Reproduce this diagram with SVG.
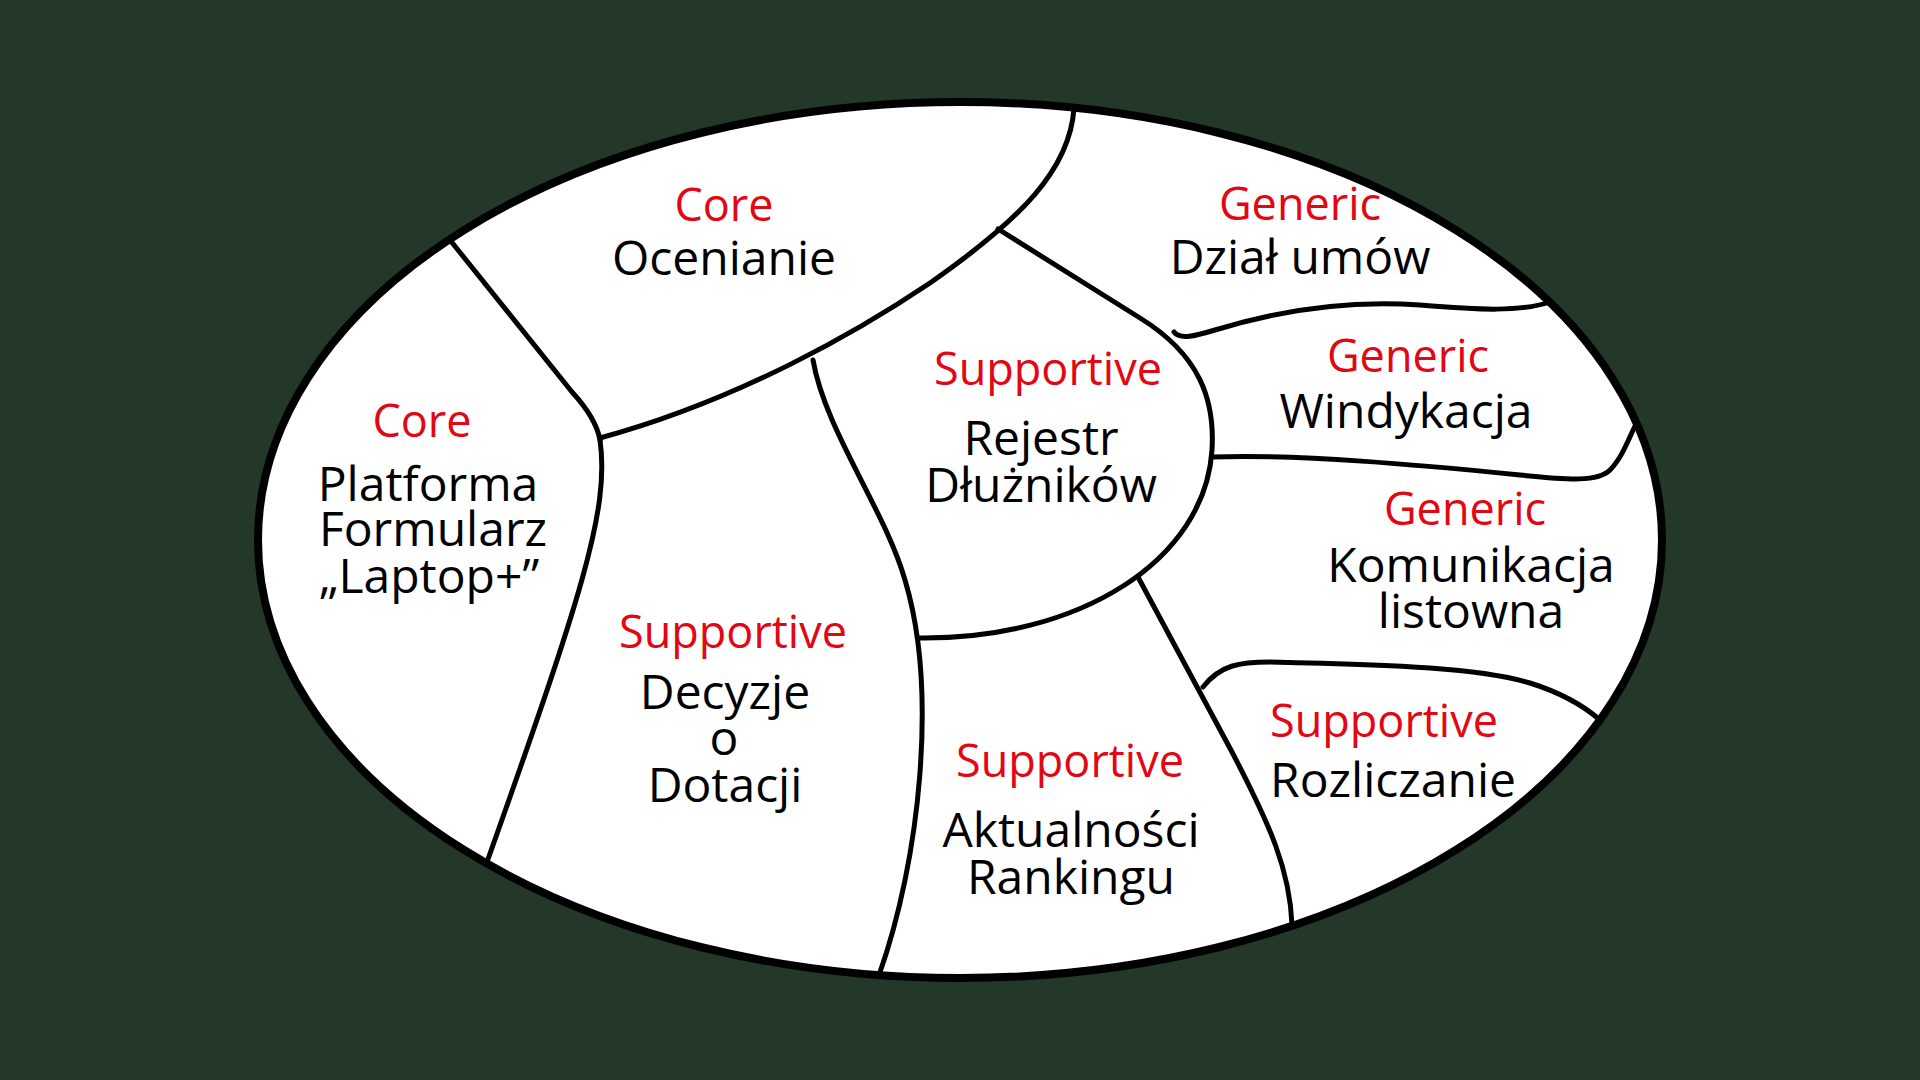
<svg xmlns="http://www.w3.org/2000/svg" width="1920" height="1080" viewBox="0 0 1920 1080">
<style>
.bd{fill:none;stroke:#000;stroke-width:5;stroke-linecap:round;stroke-linejoin:round}
.t{font-family:"Open Sans","Noto Sans","DejaVu Sans",sans-serif;text-anchor:middle}
.k{fill:#e30613;font-size:45px}
.n{fill:#000;font-size:48px}
</style>
<rect x="0" y="0" width="1920" height="1080" fill="#233829"/>
<ellipse id="domain" cx="960" cy="540" rx="702" ry="438" fill="#fff" stroke="#000" stroke-width="8"/>
<g id="connectors">
<path class="bd" d="M1074,108 C1070,170 1020,220 930,283 C860,330 740,400 600,438"/>
<path class="bd" d="M450,240 L572,392 Q596,418 600,440"/>
<path class="bd" d="M600,440 C610,510 580,600 487,862"/>
<path class="bd" d="M813,360 C825,430 885,510 905,580 C938,690 920,860 879,975"/>
<path class="bd" d="M998,229 L1140,318 C1200,355 1215,400 1212,450 C1205,560 1080,640 918,638"/>
<path class="bd" d="M1174,332 C1180,340 1195,336 1215,330 C1280,310 1350,300 1420,305 C1480,310 1520,312 1550,302"/>
<path class="bd" d="M1212,457 C1300,454 1420,465 1520,475 C1570,480 1598,482 1610,470 C1622,458 1628,440 1636,424"/>
<path class="bd" d="M1138,577 L1232,752 C1270,825 1290,870 1292,925"/>
<path class="bd" d="M1203,687 C1220,665 1240,662 1270,662 C1400,665 1480,668 1530,683 C1565,694 1585,707 1600,720"/>
</g>
<g id="ocenianie" class="t">
<text class="k" x="724" y="221">Core</text>
<text class="n" x="724" y="275">Ocenianie</text>
</g>
<g id="platforma" class="t">
<text class="k" x="422" y="437">Core</text>
<text class="n" x="428" y="501">Platforma</text>
<text class="n" x="433" y="546">Formularz</text>
<text class="n" x="429" y="593">„Laptop+”</text>
</g>
<g id="decyzje" class="t">
<text class="k" x="733" y="648">Supportive</text>
<text class="n" x="725" y="709">Decyzje</text>
<text class="n" x="724" y="755">o</text>
<text class="n" x="725" y="802">Dotacji</text>
</g>
<g id="rejestr" class="t">
<text class="k" x="1048" y="385">Supportive</text>
<text class="n" x="1041" y="455">Rejestr</text>
<text class="n" x="1041" y="502">Dłużników</text>
</g>
<g id="aktualnosci" class="t">
<text class="k" x="1070" y="777">Supportive</text>
<text class="n" x="1071" y="847">Aktualności</text>
<text class="n" x="1071" y="894">Rankingu</text>
</g>
<g id="dzial-umow" class="t">
<text class="k" x="1300" y="220">Generic</text>
<text class="n" x="1300" y="274">Dział umów</text>
</g>
<g id="windykacja" class="t">
<text class="k" x="1408" y="372">Generic</text>
<text class="n" x="1406" y="428">Windykacja</text>
</g>
<g id="komunikacja" class="t">
<text class="k" x="1465" y="525">Generic</text>
<text class="n" x="1471" y="582">Komunikacja</text>
<text class="n" x="1471" y="628">listowna</text>
</g>
<g id="rozliczanie" class="t">
<text class="k" x="1384" y="737">Supportive</text>
<text class="n" x="1393" y="797">Rozliczanie</text>
</g>
</svg>
